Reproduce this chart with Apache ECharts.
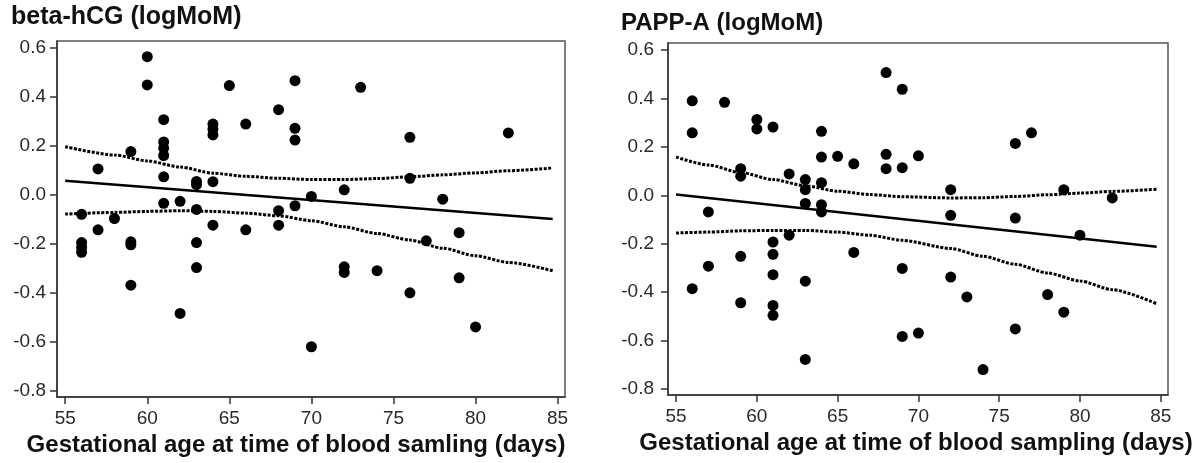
<!DOCTYPE html>
<html>
<head>
<meta charset="utf-8">
<script src="https://cdn.jsdelivr.net/npm/echarts@6/dist/echarts.min.js"></script>
<style>
  html, body { margin: 0; padding: 0; background: #fff; }
  #chart { width: 1197px; height: 463px; }
</style>
</head>
<body>
<div id="chart"></div>
<script>
// tick labels (shared by both panels)
const xTicks = [55, 60, 65, 70, 75, 80, 85];
const yTicks = [-0.8, -0.6, -0.4, -0.2, 0.0, 0.2, 0.4, 0.6];

// beta-hCG: observations (day, logMoM)
const hcgDays = [
  56, 56, 56, 56,
  57, 57,
  58,
  59, 59, 59, 59,
  60, 60,
  61, 61, 61, 61, 61, 61,
  62, 62,
  63, 63, 63, 63, 63,
  64, 64, 64, 64, 64,
  65,
  66, 66,
  68, 68, 68,
  69, 69, 69, 69,
  70, 70,
  72, 72, 72,
  73,
  74,
  76, 76, 76,
  77,
  78,
  79, 79,
  80,
  82,
];
const hcgValues = [
  -0.08, -0.195, -0.215, -0.235,
  0.105, -0.143,
  -0.097,
  0.176, -0.192, -0.204, -0.369,
  0.563, 0.448,
  0.306, 0.215, 0.19, 0.16, 0.073, -0.035,
  -0.027, -0.484,
  0.054, 0.041, -0.06, -0.195, -0.297,
  0.288, 0.268, 0.244, 0.053, -0.124,
  0.445,
  0.288, -0.143,
  0.347, -0.065, -0.124,
  0.465, 0.271, 0.223, -0.045,
  -0.007, -0.62,
  0.02, -0.294, -0.317,
  0.438,
  -0.31,
  0.234, 0.067, -0.4,
  -0.188,
  -0.018,
  -0.155, -0.339,
  -0.539,
  0.252,
];
// beta-hCG: fitted line and 95% band
const hcgFitDays = [55, 84.7];
const hcgFit = [0.057, -0.099];
const hcgBandDays = [55, 58, 60, 62, 64, 66, 68, 70, 72, 74, 76, 78, 80, 82, 84.7];
const hcgUpper = [0.196, 0.162, 0.138, 0.113, 0.088, 0.075, 0.067, 0.062, 0.062, 0.066, 0.073, 0.081, 0.089, 0.098, 0.109];
const hcgLower = [-0.079, -0.072, -0.068, -0.065, -0.068, -0.075, -0.086, -0.106, -0.131, -0.158, -0.185, -0.218, -0.249, -0.276, -0.31];

// PAPP-A: observations (day, logMoM)
const pappDays = [
  56, 56, 56,
  57, 57,
  58,
  59, 59, 59, 59,
  60, 60,
  61, 61, 61, 61, 61, 61,
  62, 62,
  63, 63, 63, 63, 63,
  64, 64, 64, 64, 64,
  65,
  66, 66,
  68, 68, 68,
  69, 69, 69, 69,
  70, 70,
  72, 72, 72,
  73,
  74,
  76, 76, 76,
  77,
  78,
  79, 79,
  80,
  82,
];
const pappValues = [
  0.39, 0.258, -0.386,
  -0.069, -0.293,
  0.384,
  0.11, 0.079, -0.252, -0.444,
  0.313, 0.274,
  0.282, -0.193, -0.244, -0.328, -0.455, -0.496,
  0.088, -0.165,
  0.065, 0.023, -0.034, -0.355, -0.678,
  0.264, 0.158, 0.052, -0.039, -0.069,
  0.161,
  0.13, -0.236,
  0.507, 0.169, 0.11,
  0.438, 0.114, -0.302, -0.583,
  0.163, -0.569,
  0.023, -0.083, -0.338,
  -0.42,
  -0.72,
  0.214, -0.094, -0.552,
  0.258,
  -0.41,
  0.023, -0.483,
  -0.165,
  -0.011,
];
const pappFitDays = [55, 84.75];
const pappFit = [0.003, -0.213];
const pappBandDays = [55, 57, 59, 61, 63, 65, 67, 69, 72, 74, 76, 78, 80, 82, 84.75];
const pappUpper = [0.158, 0.125, 0.094, 0.065, 0.039, 0.017, 0.003, -0.006, -0.011, -0.01, -0.005, 0.002, 0.009, 0.016, 0.025];
const pappLower = [-0.156, -0.152, -0.147, -0.145, -0.145, -0.152, -0.165, -0.186, -0.22, -0.252, -0.285, -0.321, -0.354, -0.39, -0.448];

const font = "'Liberation Sans', Arial, sans-serif";

const zip = (xs, ys) => xs.map((x, i) => [x, ys[i]]);

function makeXAxis(index, name, namePadding) {
  return {
    gridIndex: index,
    type: 'value',
    min: 54.5,
    max: 85.45,
    axisLine: { show: true, onZero: false, lineStyle: { color: '#333', width: 1.5 } },
    axisTick: { show: true, length: 7, customValues: xTicks, lineStyle: { color: '#333', width: 1.5 } },
    axisLabel: { customValues: xTicks, margin: 12, fontSize: 19, color: '#2a2a2a', fontFamily: font },
    splitLine: { show: false },
    name,
    nameLocation: 'middle',
    nameGap: 36,
    nameTextStyle: {
      fontSize: 24, fontWeight: 'bold', color: '#111', fontFamily: font, padding: namePadding,
    },
  };
}

function makeYAxis(index, max, margin) {
  return {
    gridIndex: index,
    type: 'value',
    min: -0.825,
    max,
    axisLine: { show: true, onZero: false, lineStyle: { color: '#333', width: 1.5 } },
    axisTick: { show: true, length: 7, customValues: yTicks, lineStyle: { color: '#333', width: 1.5 } },
    axisLabel: {
      customValues: yTicks,
      margin,
      fontSize: 19,
      color: '#2a2a2a',
      fontFamily: font,
      formatter: (v) => v.toFixed(1),
    },
    splitLine: { show: false },
  };
}

function panelSeries(index, days, values, fitDays, fit, bandDays, upper, lower) {
  const band = (data) => ({
    type: 'line',
    xAxisIndex: index,
    yAxisIndex: index,
    data,
    showSymbol: false,
    smooth: 0.25,
    smoothMonotone: 'x',
    lineStyle: { color: '#000', width: 3, type: [3, 1.5] },
    z: 2,
  });
  return [
    band(zip(bandDays, upper)),
    band(zip(bandDays, lower)),
    {
      type: 'line',
      xAxisIndex: index,
      yAxisIndex: index,
      data: zip(fitDays, fit),
      showSymbol: false,
      lineStyle: { color: '#000', width: 2.5 },
      z: 3,
    },
    {
      type: 'scatter',
      xAxisIndex: index,
      yAxisIndex: index,
      data: zip(days, values),
      symbol: 'circle',
      symbolSize: 11,
      itemStyle: { color: '#000', opacity: 1 },
      z: 4,
    },
  ];
}

const chart = echarts.init(document.getElementById('chart'));

chart.setOption({
  animation: false,
  backgroundColor: '#fff',
  title: [
    {
      text: 'beta-hCG (logMoM)', left: 11, top: 5, padding: 0,
      textStyle: { fontSize: 25, fontWeight: 'bold', color: '#111', fontFamily: font },
    },
    {
      text: 'PAPP-A (logMoM)', left: 621, top: 11, padding: 0,
      textStyle: { fontSize: 24, fontWeight: 'bold', color: '#111', fontFamily: font },
    },
  ],
  grid: [
    { left: 57, top: 41, width: 508, height: 356, show: true, borderColor: '#555', borderWidth: 1.5 },
    { left: 668, top: 43, width: 500, height: 352, show: true, borderColor: '#555', borderWidth: 1.5 },
  ],
  xAxis: [
    makeXAxis(0, 'Gestational age at time of blood samling (days)', [0, 30, 0, 0]),
    makeXAxis(1, 'Gestational age at time of blood sampling (days)', [0, 4, 0, 0]),
  ],
  yAxis: [
    makeYAxis(0, 0.627, 11),
    makeYAxis(1, 0.629, 14),
  ],
  series: [
    ...panelSeries(0, hcgDays, hcgValues, hcgFitDays, hcgFit, hcgBandDays, hcgUpper, hcgLower),
    ...panelSeries(1, pappDays, pappValues, pappFitDays, pappFit, pappBandDays, pappUpper, pappLower),
  ],
});
</script>
</body>
</html>
